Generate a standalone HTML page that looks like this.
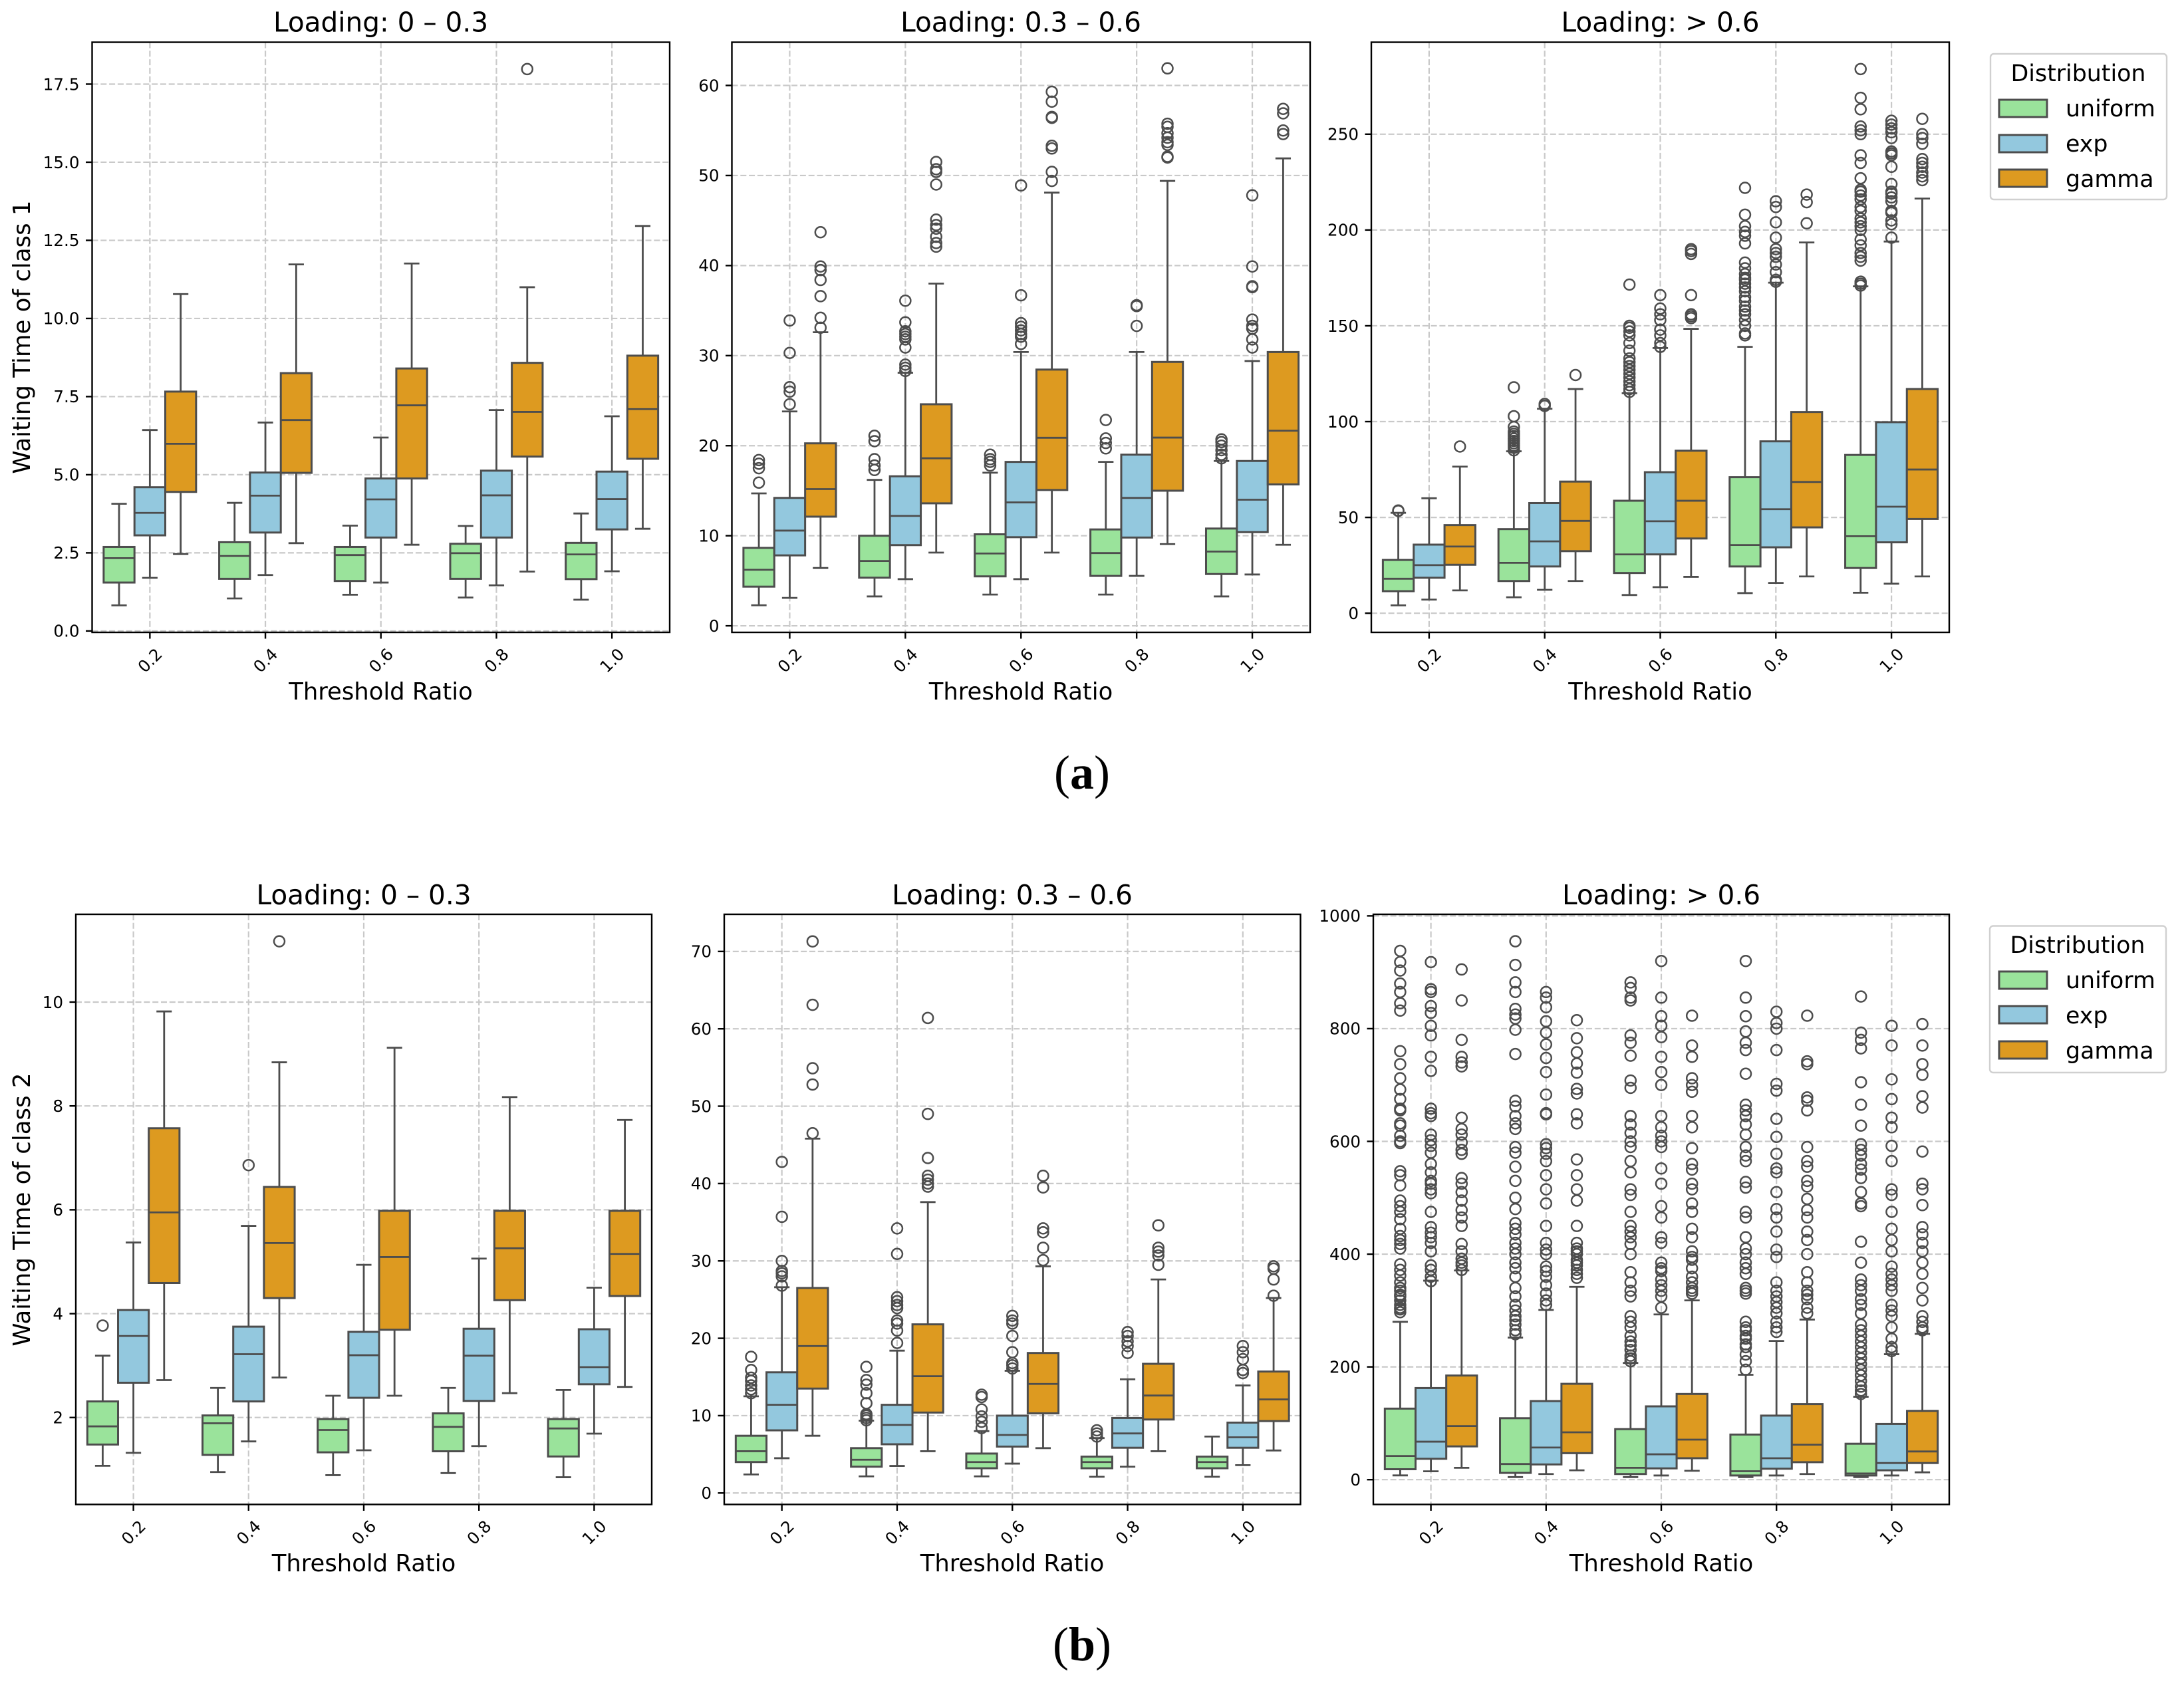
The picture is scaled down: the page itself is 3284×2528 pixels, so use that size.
<!DOCTYPE html>
<html lang="en">
<head>
<meta charset="utf-8">
<title>Waiting time box plots by threshold ratio</title>
<style>
html,body{margin:0;padding:0;background:#fff;width:3284px;height:2528px;overflow:hidden}
svg{display:block;font-family:"DejaVu Sans","Liberation Sans",sans-serif;fill:#000}
.title{font-size:40.6px;text-anchor:middle}
.xlabel{font-size:35.4px;text-anchor:middle}
.ylabel{font-size:35.6px;text-anchor:middle}
.tick{font-size:24.6px}
.leg{font-size:34.8px}
.sub{font-family:"Liberation Serif",serif;font-size:72px;text-anchor:middle}
.sub .b{font-weight:bold}
</style>
</head>
<body>
<svg id="figure" xmlns="http://www.w3.org/2000/svg" width="3284" height="2528" viewBox="0 0 3284 2528">
  <rect x="0" y="0" width="3284" height="2528" fill="#fff"/>
  <g id="a1"></g>
  <g id="a2"></g>
  <g id="a3"></g>
  <g id="b1"></g>
  <g id="b2"></g>
  <g id="b3"></g>

  <text class="title" x="572.5" y="47.5">Loading: 0 – 0.3</text>
  <text class="title" x="1535" y="47.5">Loading: 0.3 – 0.6</text>
  <text class="title" x="2496.5" y="47.5">Loading: &gt; 0.6</text>
  <text class="title" x="547" y="1360">Loading: 0 – 0.3</text>
  <text class="title" x="1522" y="1360">Loading: 0.3 – 0.6</text>
  <text class="title" x="2498" y="1360">Loading: &gt; 0.6</text>

  <text class="xlabel" x="572.5" y="1052">Threshold Ratio</text>
  <text class="xlabel" x="1535" y="1052">Threshold Ratio</text>
  <text class="xlabel" x="2496.5" y="1052">Threshold Ratio</text>
  <text class="xlabel" x="547" y="2363">Threshold Ratio</text>
  <text class="xlabel" x="1522" y="2363">Threshold Ratio</text>
  <text class="xlabel" x="2498" y="2363">Threshold Ratio</text>

  <text class="ylabel" transform="translate(45 507) rotate(-90)">Waiting Time of class 1</text>
  <text class="ylabel" transform="translate(45 1819) rotate(-90)">Waiting Time of class 2</text>

  <g>
    <rect x="2993" y="81" width="265" height="219" rx="5" fill="#fff" stroke="#d0d0d0" stroke-width="2.4"/>
    <text class="leg" x="3125" y="122" text-anchor="middle">Distribution</text>
    <rect x="3006" y="150" width="72" height="26" fill="#9ae39b" stroke="#4d4d4d" stroke-width="3"/>
    <text class="leg" x="3106" y="175">uniform</text>
    <rect x="3006" y="203" width="72" height="26" fill="#93c8de" stroke="#4d4d4d" stroke-width="3"/>
    <text class="leg" x="3106" y="228">exp</text>
    <rect x="3006" y="255" width="72" height="26" fill="#dd9a20" stroke="#4d4d4d" stroke-width="3"/>
    <text class="leg" x="3106" y="281">gamma</text>
  </g>
  <g>
    <rect x="2992" y="1392.5" width="265" height="220.5" rx="5" fill="#fff" stroke="#d0d0d0" stroke-width="2.4"/>
    <text class="leg" x="3124" y="1433" text-anchor="middle">Distribution</text>
    <rect x="3006" y="1461" width="72" height="26" fill="#9ae39b" stroke="#4d4d4d" stroke-width="3"/>
    <text class="leg" x="3106" y="1486">uniform</text>
    <rect x="3006" y="1513" width="72" height="26" fill="#93c8de" stroke="#4d4d4d" stroke-width="3"/>
    <text class="leg" x="3106" y="1539">exp</text>
    <rect x="3006" y="1566" width="72" height="26" fill="#dd9a20" stroke="#4d4d4d" stroke-width="3"/>
    <text class="leg" x="3106" y="1592">gamma</text>
  </g>

  <text class="sub" x="1627" y="1186">(<tspan class="b">a</tspan>)</text>
  <text class="sub" x="1627" y="2497">(<tspan class="b">b</tspan>)</text>
</svg>

<script>
// Shared categories and series
const categories = ['0.2', '0.4', '0.6', '0.8', '1.0'];
const seriesNames = ['uniform', 'exp', 'gamma'];

// Y tick labels
const a1Ticks = ['0.0', '2.5', '5.0', '7.5', '10.0', '12.5', '15.0', '17.5'];
const a2Ticks = ['0', '10', '20', '30', '40', '50', '60'];
const a3Ticks = ['0', '50', '100', '150', '200', '250'];
const b1Ticks = ['2', '4', '6', '8', '10'];
const b2Ticks = ['0', '10', '20', '30', '40', '50', '60', '70'];
const b3Ticks = ['0', '200', '400', '600', '800', '1000'];

// Box stats per category: [lower whisker, Q1, median, Q3, upper whisker]
const a1Uniform = [[0.82,1.55,2.33,2.69,4.07],[1.04,1.67,2.40,2.84,4.10],[1.16,1.60,2.43,2.69,3.37],[1.07,1.67,2.49,2.79,3.36],[1.00,1.66,2.45,2.82,3.76]];
const a1Exp = [[1.70,3.06,3.78,4.60,6.43],[1.79,3.15,4.33,5.07,6.67],[1.55,2.99,4.21,4.88,6.19],[1.46,2.99,4.34,5.13,7.07],[1.91,3.25,4.22,5.10,6.87]];
const a1Gamma = [[2.46,4.45,5.99,7.66,10.78],[2.81,5.06,6.75,8.25,11.73],[2.76,4.88,7.22,8.40,11.76],[1.90,5.58,7.01,8.58,11.0],[3.27,5.51,7.10,8.81,12.96]];
const a1UniformOut = [[],[],[],[],[]];
const a1ExpOut = [[],[],[],[],[]];
const a1GammaOut = [[],[],[],[17.98],[]];

const a2Uniform = [[2.28,4.35,6.22,8.65,14.7],[3.26,5.34,7.2,10.0,16.2],[3.47,5.49,8.03,10.16,17.0],[3.47,5.54,8.08,10.7,18.2],[3.26,5.75,8.24,10.8,18.3]];
const a2Exp = [[3.1,7.82,10.57,14.2,23.8],[5.18,8.96,12.2,16.6,28.1],[5.18,9.84,13.7,18.2,30.4],[5.54,9.8,14.2,19.0,30.4],[5.7,10.4,14.0,18.3,29.4]];
const a2Gamma = [[6.42,12.12,15.18,20.26,32.6],[8.13,13.6,18.6,24.6,38.0],[8.13,15.08,20.88,28.45,48.1],[9.07,15.0,20.9,29.3,49.4],[9.0,15.7,21.66,30.4,51.9]];
const a2UniformOut = [[15.9,17.5,18.0,18.4],[17.3,17.8,18.5,20.5,21.1],[17.8,18.2,18.5,19.0],[19.7,20.3,20.8,22.85],[18.6,19.0,19.5,20.0,20.4,20.7]];
const a2ExpOut = [[24.6,26.0,26.5,30.3,33.9],[28.3,28.65,29.0,30.9,31.8,32.1,32.4,32.7,33.7,36.1],[31.3,32.1,32.4,32.8,33.2,33.6,36.7,48.9],[33.3,35.5,35.6],[30.9,31.8,33.0,33.3,34.0,37.6,37.7,39.9,47.8]];
const a2GammaOut = [[33.1,34.2,36.6,38.4,39.5,39.9,43.7],[42.1,42.5,43.2,44.1,44.5,45.1,49.0,50.4,50.7,51.5],[49.4,50.4,53.0,53.3,56.4,56.5,58.2,59.3],[52.0,52.1,53.4,53.7,54.2,54.7,55.4,55.75,61.9],[54.6,55.0,56.9,57.4]];

const a3Uniform = [[4.1,11.5,18,27.8,52.4],[8.3,16.8,26.3,43.9,84.5],[9.5,21,30.7,58.7,114.8],[10.5,24.4,35.6,71,139],[10.7,23.6,40.2,82.6,170.6]];
const a3Exp = [[7.1,18.5,25.1,35.8,60],[12.2,24.4,37.5,57.5,106.7],[13.6,30.7,48,73.6,138.4],[15.8,34.4,54.3,89.7,172.5],[15.4,37,55.6,99.7,194]];
const a3Gamma = [[11.9,25.3,34.8,46,76.5],[16.8,32.4,48.2,68.7,117],[19,39,58.7,84.8,148.4],[19.2,44.8,68.5,105,193.5],[19.2,49.2,75,117,216.4]];
const a3UniformOut = [[53.4,53.6],[85,86.3,87.5,88.7,89.9,91.1,92.4,93.6,94.8,97.2,102.8,117.9],[115.5,117,119,121,123,125,127,129,131,133,137,141,145,147,149,150,171.5],[145,146,150,153,156,158,160,163,165,168,170,172,174,175,177,180,183,193,197,199,202,208,222],[171,172,173,184,186,188,192,195,200,202,204,206,210,212,216,218,220,221,227,235,239,250,252,254,263,269,284]];
const a3ExpOut = [[],[108.2,109.2],[139,141,145,148,153,156,159,166],[173,174,178,182,186,188,190,196,204,212,215],[196,203,205,209,210,215,217,219,220,224,233,239,240,241,248,251,253,255,257]];
const a3GammaOut = [[87],[124.3],[154,155,156,166,187.5,189,190],[203.5,214.5,218.5],[226,228,230,233,235,237,245,248,250,258]];

const b1Uniform = [[1.07,1.48,1.83,2.31,3.19],[0.95,1.28,1.89,2.04,2.57],[0.89,1.33,1.76,1.97,2.42],[0.93,1.35,1.82,2.08,2.57],[0.85,1.25,1.79,1.97,2.53]];
const b1Exp = [[1.32,2.67,3.57,4.07,5.37],[1.54,2.31,3.22,3.75,5.69],[1.37,2.38,3.2,3.65,4.94],[1.45,2.32,3.19,3.71,5.06],[1.69,2.64,2.97,3.7,4.5]];
const b1Gamma = [[2.72,4.59,5.95,7.57,9.82],[2.77,4.30,5.36,6.44,8.84],[2.42,3.69,5.09,5.98,9.12],[2.47,4.26,5.26,5.98,8.17],[2.59,4.34,5.15,5.98,7.73]];
const b1UniformOut = [[3.77],[],[],[],[]];
const b1ExpOut = [[],[6.86],[],[],[]];
const b1GammaOut = [[],[11.17],[],[],[]];

const b2Uniform = [[2.4,4.0,5.4,7.4,12.5],[2.15,3.4,4.3,5.8,9.35],[2.15,3.2,4.0,5.1,8],[2.1,3.2,4,4.7,7.1],[2.1,3.2,4,4.7,7.3]];
const b2Exp = [[4.5,8.1,11.4,15.6,26.6],[3.5,6.3,8.8,11.4,18.4],[3.8,6,7.5,10,15.8],[3.4,5.85,7.7,9.7,14.7],[3.6,5.85,7.2,9.1,13.9]];
const b2Gamma = [[7.4,13.5,19,26.5,45.8],[5.4,10.4,15.1,21.8,37.6],[5.8,10.3,14.1,18.1,29.3],[5.4,9.5,12.6,16.7,27.6],[5.5,9.3,12.1,15.7,25.2]];
const b2UniformOut = [[12.9,13.4,13.9,14.5,14.9,15.9,17.6],[9.4,9.7,10,10.2,11.6,12.9,14,14.6,16.3],[8.4,9.2,9.9,10.8,12.4,12.7],[7.3,7.7,8.1],[]];
const b2ExpOut = [[26.8,28.0,28.4,28.7,30,35.7,42.8],[19.4,21,21.9,22.3,23.9,24.3,24.8,25.3,30.9,34.2],[16.1,16.5,16.8,18.2,20.3,21.9,22.3,22.9],[18.1,19,19.6,20.3,20.8],[15.5,15.9,17.3,18.2,19]];
const b2GammaOut = [[46.5,52.8,54.9,63.1,71.3],[39.6,40,40.5,41,43.3,49,61.4],[30.1,31.7,33.7,34.2,39.5,41],[29.5,30.7,31.2,31.7,34.6],[25.5,27.6,29,29.3]];

const b3Uniform = [[7.5,18.5,42,126,280],[4.6,12,27.7,109,252],[4.6,10,21,89.6,207],[4.6,7.4,15,80,186],[4.6,7.4,11,63.7,147]];
const b3Exp = [[14.8,37,67.4,162.5,353],[10,27,57,139.4,301],[7.4,20,45,130,293],[7.4,19.4,38,113.6,246],[7.4,16.6,29.5,98.8,222.5]];
const b3Gamma = [[21,59,95,184.7,371],[16.6,47,84,170,342],[15.7,38,71,152,318],[10,31,62,134,284],[13,29.5,50,122,258.5]];
const b3UniformOut = [[938,918,903,880,865,845,832,760,737,712,692,675,658,655,632,628,610,600,597,547,540,522,495,485,475,462,445,432,425,418,410,382,372,362,350,340,335,328,325,318,310,305,302,297],[955,913,882,865,835,825,818,798,755,672,662,645,632,622,590,580,555,530,500,480,455,445,435,420,410,400,385,375,360,340,325,310,300,290,283,275,265,258],[882,872,855,850,788,775,752,708,695,645,630,615,600,590,565,545,515,505,475,450,440,430,418,400,368,350,335,325,290,280,270,255,245,238,230,220,215,210],[920,855,822,795,775,762,720,665,655,645,630,612,590,575,565,528,518,475,465,430,410,400,385,375,365,340,335,330,280,270,265,255,250,240,235,222,210,195],[857,793,780,765,705,665,628,595,585,575,560,550,535,510,490,485,422,385,355,345,335,320,310,295,275,265,255,245,235,225,215,205,195,185,175,165,158,152]];
const b3ExpOut = [[918,870,865,840,828,805,788,750,725,658,650,645,612,602,592,580,560,545,530,525,515,508,475,448,438,430,420,405,380,372,360,352],[865,855,838,813,793,772,748,723,683,650,648,595,588,578,565,540,515,490,450,420,408,400,378,370,360,345,330,318,310],[920,855,822,805,785,750,723,700,645,625,610,600,590,552,525,485,465,430,420,385,375,370,355,345,335,325,305],[830,810,800,762,702,690,640,608,578,552,545,510,480,465,440,408,395,350,335,325,315,305,295,280,270,262],[805,770,710,675,642,625,592,565,515,505,475,445,425,405,378,365,355,345,335,310,300,290,270,250,235,228]];
const b3GammaOut = [[905,850,780,750,740,733,642,622,612,598,585,578,535,525,510,495,478,465,450,418,405,392,385,380,372],[815,783,758,738,722,693,685,648,632,568,540,515,495,450,420,410,405,400,390,385,380,372,365,358],[823,770,750,712,700,688,645,625,588,560,550,525,515,490,475,445,430,405,395,390,375,360,350,340,335,330],[823,742,737,678,672,655,590,565,555,530,520,498,478,465,440,425,400,368,350,335,328,320,305,295],[808,770,737,718,680,660,582,525,515,487,448,435,420,405,385,365,340,318,290,280,270,265]];

const seriesColors = ['#9ae39b', '#93c8de', '#dd9a20'];
const LINE = '#4d4d4d';
const GRID = '#c9c9c9';
const NS = 'http://www.w3.org/2000/svg';

const panels = [
  {id:'a1', left:138.5, right:1007, top:63.5, bottom:951, yMin:-0.045, yMax:18.84, ticks:a1Ticks, stats:[a1Uniform,a1Exp,a1Gamma], outs:[a1UniformOut,a1ExpOut,a1GammaOut]},
  {id:'a2', left:1100.5, right:1970, top:63.5, bottom:951, yMin:-0.73, yMax:64.8, ticks:a2Ticks, stats:[a2Uniform,a2Exp,a2Gamma], outs:[a2UniformOut,a2ExpOut,a2GammaOut]},
  {id:'a3', left:2062, right:2931, top:63.5, bottom:951, yMin:-10, yMax:298, ticks:a3Ticks, stats:[a3Uniform,a3Exp,a3Gamma], outs:[a3UniformOut,a3ExpOut,a3GammaOut]},
  {id:'b1', left:114, right:980, top:1375, bottom:2262.5, yMin:0.326, yMax:11.69, ticks:b1Ticks, stats:[b1Uniform,b1Exp,b1Gamma], outs:[b1UniformOut,b1ExpOut,b1GammaOut]},
  {id:'b2', left:1089, right:1955.5, top:1375, bottom:2262.5, yMin:-1.48, yMax:74.8, ticks:b2Ticks, stats:[b2Uniform,b2Exp,b2Gamma], outs:[b2UniformOut,b2ExpOut,b2GammaOut]},
  {id:'b3', left:2065, right:2931, top:1375, bottom:2262.5, yMin:-44, yMax:1002.8, ticks:b3Ticks, stats:[b3Uniform,b3Exp,b3Gamma], outs:[b3UniformOut,b3ExpOut,b3GammaOut]}
];

function make(parent, tag, attrs) {
  const el = document.createElementNS(NS, tag);
  for (const k in attrs) el.setAttribute(k, attrs[k]);
  parent.appendChild(el);
  return el;
}

function drawPanel(p) {
  const root = document.getElementById(p.id);
  const nCat = categories.length;
  const step = (p.right - p.left) / nCat;
  const xScale = function (i) { return p.left + (i + 0.5) * step; };
  const yScale = function (v) { return p.top + (p.yMax - v) / (p.yMax - p.yMin) * (p.bottom - p.top); };
  const dash = '9 3.8';

  // grid lines
  p.ticks.forEach(function (lab) {
    const y = yScale(Number(lab));
    const g = make(root, 'line', {x1:p.left, x2:p.right, y1:y, y2:y, stroke:GRID, 'stroke-width':2.2, 'stroke-dasharray':dash});
    
    
  });
  categories.forEach(function (c, i) {
    const x = xScale(i);
    const g = make(root, 'line', {x1:x, x2:x, y1:p.top, y2:p.bottom, stroke:GRID, 'stroke-width':2.2, 'stroke-dasharray':dash});
    
    
  });

  // boxes
  const boxW = step * 0.8 / 3;
  seriesNames.forEach(function (name, s) {
    const stats = p.stats[s];
    const outs = p.outs[s];
    categories.forEach(function (c, i) {
      const cx = xScale(i) + (s - 1) * boxW;
      const v = stats[i];
      const box = make(root, 'g', {});
      
      
      const lineAttrs = {stroke:LINE, 'stroke-width':2.8};
      const capW = boxW / 2;
      make(box, 'line', Object.assign({x1:cx, x2:cx, y1:yScale(v[0]), y2:yScale(v[1])}, lineAttrs));
      make(box, 'line', Object.assign({x1:cx, x2:cx, y1:yScale(v[3]), y2:yScale(v[4])}, lineAttrs));
      make(box, 'line', Object.assign({x1:cx - capW / 2, x2:cx + capW / 2, y1:yScale(v[0]), y2:yScale(v[0])}, lineAttrs));
      make(box, 'line', Object.assign({x1:cx - capW / 2, x2:cx + capW / 2, y1:yScale(v[4]), y2:yScale(v[4])}, lineAttrs));
      make(box, 'rect', {x:cx - boxW / 2, y:yScale(v[3]), width:boxW, height:yScale(v[1]) - yScale(v[3]), fill:seriesColors[s], stroke:LINE, 'stroke-width':3});
      make(box, 'line', Object.assign({x1:cx - boxW / 2, x2:cx + boxW / 2, y1:yScale(v[2]), y2:yScale(v[2])}, lineAttrs));
      outs[i].forEach(function (o) {
        const pt = make(box, 'circle', {cx:cx, cy:yScale(o), r:8, fill:'none', stroke:LINE, 'stroke-width':2.5});
        
        
      });
    });
  });

  // spines
  const frame = make(root, 'rect', {x:p.left, y:p.top, width:p.right - p.left, height:p.bottom - p.top, fill:'none', stroke:'#000', 'stroke-width':2.4});
  
  

  // y ticks
  p.ticks.forEach(function (lab) {
    const y = yScale(Number(lab));
    const t = make(root, 'line', {x1:p.left - 9.5, x2:p.left, y1:y, y2:y, stroke:'#000', 'stroke-width':2.4});
    
    
    const tx = make(root, 'text', {x:p.left - 19, y:y + 8.8, 'text-anchor':'end', class:'tick'});
    tx.textContent = lab;
    
    
  });

  // x ticks
  categories.forEach(function (c, i) {
    const x = xScale(i);
    const t = make(root, 'line', {x1:x, x2:x, y1:p.bottom, y2:p.bottom + 9.5, stroke:'#000', 'stroke-width':2.4});
    
    
    const yc = p.bottom + 42;
    const tx = make(root, 'text', {x:x, y:yc + 8.8, 'text-anchor':'middle', class:'tick', transform:'rotate(-45 ' + x + ' ' + yc + ')'});
    tx.textContent = c;
    
    
  });
}

panels.forEach(drawPanel);
</script>
</body>
</html>
